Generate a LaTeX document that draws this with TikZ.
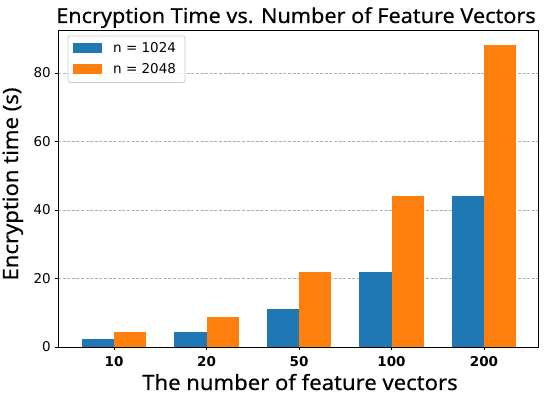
\documentclass[tikz,border=0pt]{standalone}
\usepackage{fontspec}
\setmainfont{DejaVu Sans}
\newfontfamily\labelfont[FakeStretch=1.05,FakeBold=0.4]{Noto Sans}
\definecolor{mplblue}{HTML}{1F77B4}
\definecolor{mplorange}{HTML}{FF7F0E}
\definecolor{gridgray}{HTML}{B0B0B0}
\definecolor{legedge}{HTML}{CCCCCC}
\tikzset{
  gridline/.style={draw=gridgray, dashed, dash pattern=on 3pt off 1.6pt, line width=0.6pt},
  bluebar/.style={fill=mplblue},
  orangebar/.style={fill=mplorange},
  ticklab/.style={font=\fontsize{13.5}{15}\selectfont, inner sep=0pt},
  xticklab/.style={font=\fontsize{13.5}{15}\selectfont\bfseries, inner sep=0pt, anchor=base},
  axlabel/.style={font=\labelfont\fontsize{21}{24}\selectfont, inner sep=0pt},
  titlelab/.style={font=\labelfont\fontsize{20.6}{24}\selectfont, inner sep=0pt, anchor=base},
  legtext/.style={font=\fontsize{13.5}{15}\selectfont, inner sep=0pt, anchor=base west},
}
\begin{document}
\begin{tikzpicture}[x=1pt,y=1pt]
\useasboundingbox (0,0) rectangle (544,403);
\fill[white] (0,0) rectangle (544,403);
% data scope
\begin{scope}[shift={(114,56)}, x=92.5pt, y=3.425pt]
  \foreach \v in {20,40,60,80} {
    \draw[gridline] (-0.6054,\v) -- (4.584,\v);
  }
  \foreach \i/\a/\b in {0/2.2/4.4, 1/4.4/8.8, 2/11/22, 3/22/44, 4/44/88.2} {
    \fill[bluebar] (\i-0.35,0) rectangle (\i,\a);
    \fill[orangebar] (\i,0) rectangle (\i+0.35,\b);
  }
  % y ticks
  \foreach \v in {0,20,40,60,80} {
    \draw[line width=0.8pt] (-0.6054,\v) ++(-3.5pt,0) -- ++(3.5pt,0);
    \node[ticklab, anchor=east] at ([xshift=-7pt]-0.6054,\v) {\v};
  }
  % x ticks
  \foreach \i/\t in {0/10,1/20,2/50,3/100,4/200} {
    \draw[line width=0.8pt] (\i,0) -- ++(0,-3.5pt);
    \node[xticklab] at ([yshift=-20pt]\i,0) {\t};
  }
  \draw[line width=0.8pt] (-0.6054,0) rectangle (4.584,92.55);
\end{scope}
% legend
\draw[legedge, fill=white, fill opacity=0.8, rounded corners=2pt, line width=0.8pt] (68,320.5) rectangle (185,367);
\fill[mplblue] (73,350) rectangle (102,360);
\fill[mplorange] (73,329) rectangle (102,339);
\node[legtext] at (113,350) {n = 1024};
\node[legtext] at (113,329) {n = 2048};
% labels
\node[titlelab] (title) at (296,380) {Encryption Time vs. Number of Feature Vectors};
\node[axlabel, anchor=base] (xlab) at (300,13) {The number of feature vectors};
\node[axlabel, anchor=base, rotate=90] (ylab) at (18,219) {Encryption time (s)};
\end{tikzpicture}
\end{document}
